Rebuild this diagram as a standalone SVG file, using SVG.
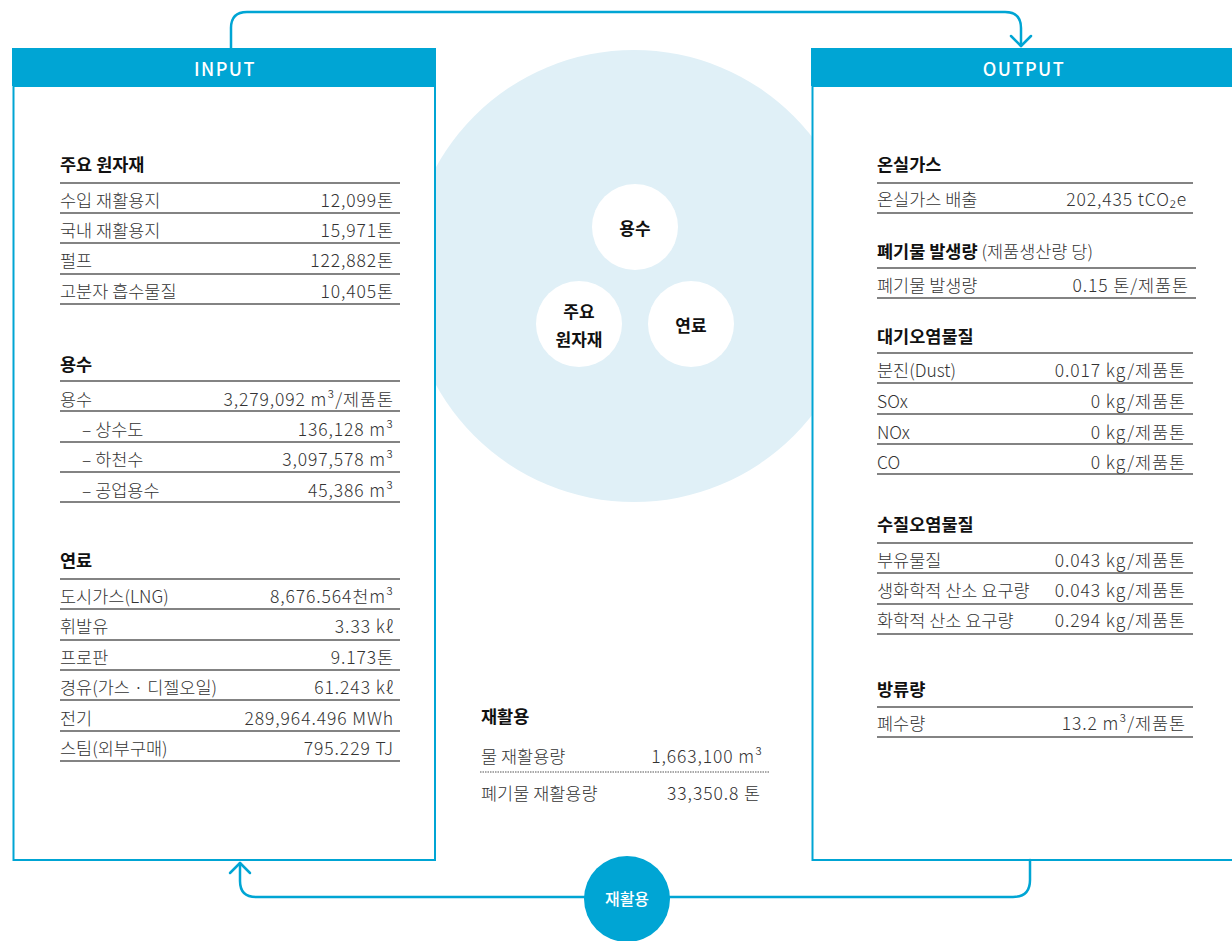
<svg xmlns="http://www.w3.org/2000/svg" width="1232" height="941" viewBox="0 0 1232 941">
<style>
text{font-family:'Noto Sans CJK KR','Noto Sans',sans-serif;}
.h{font-size:17.5px;font-weight:700;fill:#111;letter-spacing:0;}
.r{font-size:17.5px;font-weight:300;fill:#333;}
.v{font-size:17.5px;font-weight:300;fill:#333;text-anchor:end;letter-spacing:0.9px;}
.sep{stroke:#5a5a5a;stroke-width:1.3;}
.hd{font-size:18px;font-weight:500;fill:#fff;letter-spacing:1.5px;text-anchor:middle;}
.c{font-size:17px;font-weight:700;fill:#111;text-anchor:middle;}
.conn{fill:none;stroke:#00a5d4;stroke-width:2.5;stroke-linecap:round;stroke-linejoin:round;}
</style>
<rect width="1232" height="941" fill="#fff"/>
<g id="center-circle">
<circle cx="634" cy="276" r="226" fill="#e0f0f7"/>
</g>
<g id="input">
<rect x="13.5" y="86" width="421.5" height="774" fill="#fff" stroke="#00a5d4" stroke-width="2"/>
<rect x="12" y="48" width="424" height="38" fill="#00a5d4"/>
<text class="hd" x="225" y="76">INPUT</text>
<text class="h" x="60" y="171">주요 원자재</text>
<line class="sep" x1="60" y1="183" x2="400" y2="183"/>
<text class="r" x="60" y="207">수입 재활용지</text><text class="v" x="394" y="207">12,099톤</text>
<line class="sep" x1="60" y1="213" x2="400" y2="213"/>
<text class="r" x="60" y="237">국내 재활용지</text><text class="v" x="394" y="237">15,971톤</text>
<line class="sep" x1="60" y1="243" x2="400" y2="243"/>
<text class="r" x="60" y="267">펄프</text><text class="v" x="394" y="267">122,882톤</text>
<line class="sep" x1="60" y1="274" x2="400" y2="274"/>
<text class="r" x="60" y="298">고분자 흡수물질</text><text class="v" x="394" y="298">10,405톤</text>
<line class="sep" x1="60" y1="304" x2="400" y2="304"/>

<text class="h" x="60" y="371">용수</text>
<line class="sep" x1="60" y1="381" x2="400" y2="381"/>
<text class="r" x="60" y="406">용수</text><text class="v" x="394" y="406">3,279,092 m³/제품톤</text>
<line class="sep" x1="60" y1="411" x2="400" y2="411"/>
<text class="r" x="82" y="436">–  상수도</text><text class="v" x="394" y="436">136,128 m³</text>
<line class="sep" x1="60" y1="442" x2="400" y2="442"/>
<text class="r" x="82" y="466">–  하천수</text><text class="v" x="394" y="466">3,097,578 m³</text>
<line class="sep" x1="60" y1="472" x2="400" y2="472"/>
<text class="r" x="82" y="497">–  공업용수</text><text class="v" x="394" y="497">45,386 m³</text>
<line class="sep" x1="60" y1="502" x2="400" y2="502"/>

<text class="h" x="60" y="567">연료</text>
<line class="sep" x1="60" y1="579" x2="400" y2="579"/>
<text class="r" x="60" y="603">도시가스(LNG)</text><text class="v" x="394" y="603">8,676.564천m³</text>
<line class="sep" x1="60" y1="609" x2="400" y2="609"/>
<text class="r" x="60" y="633">휘발유</text><text class="v" x="394" y="633">3.33 kℓ</text>
<line class="sep" x1="60" y1="640" x2="400" y2="640"/>
<text class="r" x="60" y="664">프로판</text><text class="v" x="394" y="664">9.173톤</text>
<line class="sep" x1="60" y1="670" x2="400" y2="670"/>
<text class="r" x="60" y="694">경유(가스 · 디젤오일)</text><text class="v" x="394" y="694">61.243 kℓ</text>
<line class="sep" x1="60" y1="700" x2="400" y2="700"/>
<text class="r" x="60" y="725">전기</text><text class="v" x="394" y="725">289,964.496 MWh</text>
<line class="sep" x1="60" y1="731" x2="400" y2="731"/>
<text class="r" x="60" y="755">스팀(외부구매)</text><text class="v" x="394" y="755">795.229 TJ</text>
<line class="sep" x1="60" y1="761" x2="400" y2="761"/>
</g>
<g id="output">
<rect x="812.5" y="86" width="440" height="774" fill="#fff" stroke="#00a5d4" stroke-width="2"/>
<rect x="811" y="48" width="421" height="38" fill="#00a5d4"/>
<text class="hd" x="1024" y="76">OUTPUT</text>
<text class="h" x="877" y="171">온실가스</text>
<line class="sep" x1="877" y1="183" x2="1193" y2="183"/>
<text class="r" x="877" y="206">온실가스 배출</text><text class="v" x="1187" y="206">202,435 tCO₂e</text>
<line class="sep" x1="877" y1="213" x2="1193" y2="213"/>
<text class="r" x="877" y="258"><tspan class="h">폐기물 발생량</tspan> (제품생산량 당)</text>
<line class="sep" x1="877" y1="268" x2="1196" y2="268"/>
<text class="r" x="877" y="292">폐기물 발생량</text><text class="v" x="1189" y="292">0.15 톤/제품톤</text>
<line class="sep" x1="877" y1="298" x2="1196" y2="298"/>

<text class="h" x="877" y="343">대기오염물질</text>
<line class="sep" x1="877" y1="353" x2="1193" y2="353"/>
<text class="r" x="877" y="377">분진(Dust)</text><text class="v" x="1186" y="377">0.017 kg/제품톤</text>
<line class="sep" x1="877" y1="383" x2="1193" y2="383"/>
<text class="r" x="877" y="408">SOx</text><text class="v" x="1186" y="408">0 kg/제품톤</text>
<line class="sep" x1="877" y1="414" x2="1193" y2="414"/>
<text class="r" x="877" y="439">NOx</text><text class="v" x="1186" y="439">0 kg/제품톤</text>
<line class="sep" x1="877" y1="444" x2="1193" y2="444"/>
<text class="r" x="877" y="469">CO</text><text class="v" x="1186" y="469">0 kg/제품톤</text>
<line class="sep" x1="877" y1="474" x2="1193" y2="474"/>

<text class="h" x="877" y="531">수질오염물질</text>
<line class="sep" x1="877" y1="543" x2="1193" y2="543"/>
<text class="r" x="877" y="567">부유물질</text><text class="v" x="1186" y="567">0.043 kg/제품톤</text>
<line class="sep" x1="877" y1="573" x2="1193" y2="573"/>
<text class="r" x="877" y="597">생화학적 산소 요구량</text><text class="v" x="1186" y="597">0.043 kg/제품톤</text>
<line class="sep" x1="877" y1="604" x2="1193" y2="604"/>
<text class="r" x="877" y="627">화학적 산소 요구량</text><text class="v" x="1186" y="627">0.294 kg/제품톤</text>
<line class="sep" x1="877" y1="634" x2="1193" y2="634"/>

<text class="h" x="877" y="696">방류량</text>
<line class="sep" x1="877" y1="707" x2="1193" y2="707"/>
<text class="r" x="877" y="730">폐수량</text><text class="v" x="1186" y="730">13.2 m³/제품톤</text>
<line class="sep" x1="877" y1="737" x2="1193" y2="737"/>
</g>
<g id="small-circles">
<g id="c-water"><circle cx="635" cy="227" r="43" fill="#fff"/><text class="c" x="635" y="235">용수</text></g>
<g id="c-raw"><circle cx="579" cy="324" r="43" fill="#fff"/><text class="c" x="579" y="318">주요</text><text class="c" x="579" y="346">원자재</text></g>
<g id="c-fuel"><circle cx="691" cy="324" r="43" fill="#fff"/><text class="c" x="691" y="332">연료</text></g>
</g>
<g id="recycle-table">
<text class="h" x="481" y="723">재활용</text>
<text class="r" x="481" y="763">물 재활용량</text><text class="v" x="763" y="763">1,663,100 m³</text>
<line x1="480" y1="772" x2="770" y2="772" stroke="#555" stroke-width="1.2" stroke-dasharray="1.5 1"/>
<text class="r" x="481" y="800">폐기물 재활용량</text><text class="v" x="761" y="800">33,350.8 톤</text>
</g>
<g id="connectors">
<path class="conn" d="M231,48 V28 Q231,12 247,12 H1005 Q1021,12 1021,28 V46"/>
<path class="conn" d="M1011,36 L1021,46 L1031,36"/>
<path class="conn" d="M1030,860 V880 Q1030,897 1013,897 H256 Q240,897 240,881 V863"/>
<path class="conn" d="M230,873 L240,863 L250,873"/>
</g>
<g id="recycle-node">
<circle cx="627" cy="899" r="43" fill="#00a5d4"/>
<text x="627" y="905" font-size="16" font-weight="500" fill="#fff" text-anchor="middle">재활용</text>
</g>
</svg>
